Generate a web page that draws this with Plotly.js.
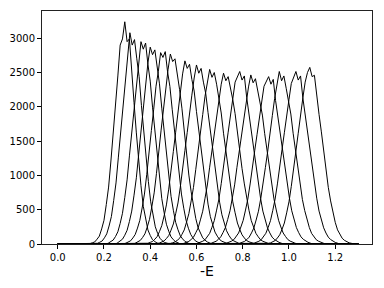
<!DOCTYPE html>
<html>
<head>
<meta charset="utf-8">
<script src="https://cdn.plot.ly/plotly-3.0.1.min.js"></script>
<style>html,body{margin:0;padding:0;background:#fff;}#chart{width:384px;height:288px;}</style>
</head>
<body>
<div id="chart"></div>
<script>
// Histogram bin width and common histogram range of -E
const binWidth = 0.01;
const histRange = [0.0, 1.3];

// first bin position (-E) of each histogram's non-zero part
const starts = [0.14, 0.172, 0.22, 0.26, 0.295, 0.337, 0.39, 0.44, 0.487, 0.547, 0.607, 0.665, 0.732, 0.788, 0.85, 0.91];

// counts per bin, one array per histogram
const h1 = [6,18,30,70,115,220,345,575,830,1210,1590,2070,2450,2900,2990,3240,2950,2990,2440,2060,1620,1180,850,550,360,205,125,62,35,14,8];
const h2 = [10,26,44,90,148,262,400,635,890,1255,1615,2050,2400,2780,3080,2900,2980,2700,2440,2020,1640,1230,910,615,412,250,155,84,48,22,13];
const h3 = [15,35,58,110,178,300,448,680,935,1285,1625,2025,2345,2700,2950,2840,2930,2620,2375,1995,1650,1260,955,662,460,288,186,104,63,31,18];
const h4 = [20,42,70,128,200,328,480,712,965,1305,1628,2010,2305,2640,2870,2760,2830,2580,2335,1980,1650,1280,982,695,492,316,208,120,74,38,22];
const h5 = [13,28,46,88,138,232,345,525,728,1015,1298,1655,1965,2300,2515,2790,2720,2805,2510,2298,1965,1655,1300,1010,728,522,346,230,140,87,46,28,14];
const h6 = [15,32,52,95,148,246,360,545,745,1030,1305,1660,1955,2280,2540,2770,2660,2700,2490,2250,1980,1630,1330,1005,760,530,372,236,155,90,56,29,17];
const h7 = [11,24,37,70,108,182,268,410,570,800,1040,1350,1630,1955,2200,2480,2670,2560,2620,2400,2230,1930,1655,1325,1058,785,582,398,278,174,114,65,40,21,12];
const h8 = [14,28,45,80,122,202,292,440,598,828,1060,1362,1628,1940,2170,2420,2610,2490,2560,2360,2195,1915,1650,1338,1078,812,610,426,300,193,128,76,48,26,15];
const h9 = [9,18,30,54,83,140,205,318,442,628,825,1088,1335,1640,1888,2155,2360,2545,2430,2500,2330,2130,1910,1615,1355,1068,840,615,455,306,214,134,88,50,32,16,10];
const h10 = [12,24,38,66,99,164,232,352,478,668,860,1120,1355,1648,1880,2130,2330,2490,2380,2440,2280,2105,1900,1620,1378,1100,876,652,492,340,242,155,105,62,40,22,13];
const h11 = [14,22,40,62,105,155,244,340,494,655,880,1100,1385,1630,1910,2115,2360,2430,2515,2390,2450,2140,1885,1650,1362,1120,865,668,480,350,235,162,100,66,38,24,12];
const h12 = [13,25,40,69,104,168,240,358,485,672,862,1118,1348,1632,1858,2100,2290,2465,2350,2410,2250,2078,1880,1608,1372,1096,880,658,496,346,248,160,110,65,42,23,14];
const h13 = [15,23,42,65,108,160,248,345,495,655,875,1092,1365,1600,1872,2070,2300,2380,2440,2330,2400,2092,1850,1625,1345,1110,860,668,484,355,240,166,104,68,40,25,13];
const h14 = [12,24,38,66,100,162,233,350,478,664,858,1115,1350,1640,1872,2122,2320,2515,2380,2450,2270,2095,1895,1615,1372,1095,872,650,488,340,240,154,105,62,40,22,13];
const h15 = [13,22,40,63,104,156,242,340,490,655,876,1098,1378,1622,1902,2106,2340,2420,2515,2390,2450,2130,1880,1645,1358,1115,862,668,480,348,236,160,100,65,38,23,12];
const h16 = [10,16,32,50,88,134,214,306,454,615,840,1068,1355,1615,1910,2130,2360,2500,2575,2440,2460,2150,1890,1635,1340,1082,826,628,442,316,206,140,84,53,30,17,10];

const hists = [h1,h2,h3,h4,h5,h6,h7,h8,h9,h10,h11,h12,h13,h14,h15,h16];

const xTicks = [0.0, 0.2, 0.4, 0.6, 0.8, 1.0, 1.2];
const yTicks = [0, 500, 1000, 1500, 2000, 2500, 3000];

const traces = hists.map((h, j) => {
  const x = [histRange[0], starts[j] - binWidth];
  const y = [0, 0];
  h.forEach((v, i) => { x.push(starts[j] + i * binWidth); y.push(v); });
  x.push(starts[j] + h.length * binWidth, histRange[1]);
  y.push(0, 0);
  return {x: x, y: y, type: 'scatter', mode: 'lines',
          line: {color: '#000', width: 1}, hoverinfo: 'skip', showlegend: false};
});

const axisCommon = {
  showline: true, mirror: true, linecolor: '#222', linewidth: 1,
  ticks: 'outside', ticklen: 4, tickwidth: 1, tickcolor: '#000',
  showgrid: false, zeroline: false,
  tickfont: {family: 'DejaVu Sans', size: 10, color: '#000'}
};

const layout = {
  width: 384, height: 288,
  margin: {l: 42, r: 12, t: 11, b: 44},
  paper_bgcolor: '#fff', plot_bgcolor: '#fff',
  xaxis: Object.assign({}, axisCommon, {
    range: [-0.068, 1.359], tickvals: xTicks, tickformat: '.1f',
    title: {text: '-E', font: {family: 'DejaVu Sans', size: 14, color: '#000'}, standoff: 4}
  }),
  yaxis: Object.assign({}, axisCommon, {
    range: [0, 3397], tickvals: yTicks
  })
};

Plotly.newPlot('chart', traces, layout, {displayModeBar: false, staticPlot: true});
</script>
</body>
</html>
